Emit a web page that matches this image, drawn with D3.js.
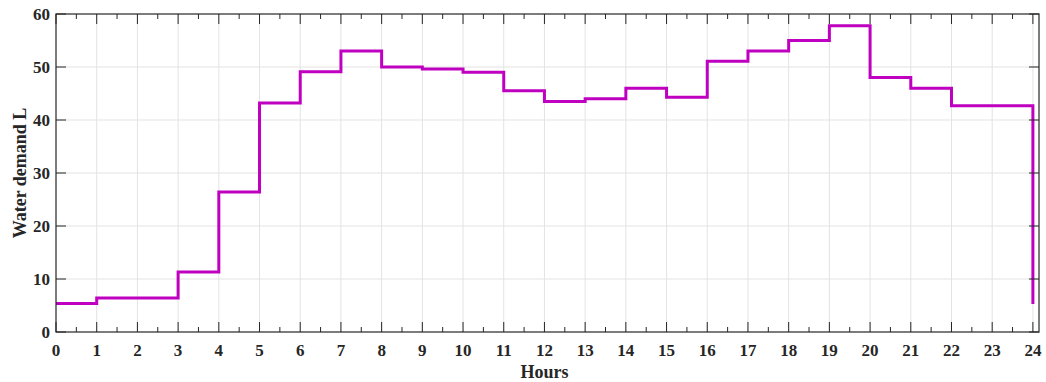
<!DOCTYPE html>
<html>
<head>
<meta charset="utf-8">
<script src="https://cdn.jsdelivr.net/npm/d3@7"></script>
<style>
  body { margin: 0; background: #fff; }
  svg text { font-family: "Liberation Serif", "DejaVu Serif", serif; fill: #262626; }
</style>
</head>
<body>
<svg id="chart" width="1046" height="382"></svg>
<script>
// hourly water demand (L), one value per hour 0..23, last value repeats hour 0
const hours = d3.range(0, 25);
const demand = [5.4, 6.4, 6.4, 11.3, 26.4, 43.2, 49.1, 53.0, 50.0, 49.6, 49.0, 45.5,
                43.5, 44.0, 46.0, 44.3, 51.1, 53.0, 55.0, 57.8, 48.0, 46.0, 42.7, 42.7, 5.3];
const yTicks = [0, 10, 20, 30, 40, 50, 60];
const xTicks = d3.range(0, 25);

const margin = { top: 14, left: 56, right: 7, bottom: 50 };
const W = 1046, H = 382;
const innerW = W - margin.left - margin.right;
const innerH = H - margin.top - margin.bottom;

const svg = d3.select('#chart');
const g = svg.append('g').attr('transform', 'translate(' + margin.left + ',' + margin.top + ')');

const x = d3.scaleLinear().domain([0, 24.15]).range([0, innerW]);
const y = d3.scaleLinear().domain([0, 60]).range([innerH, 0]);

// GRID
g.append('g').selectAll('line').data(xTicks.slice(1)).join('line')
    .attr('x1', d => x(d)).attr('x2', d => x(d))
    .attr('y1', 0).attr('y2', innerH)
    .attr('stroke', '#e3e3e3').attr('stroke-width', 1);
g.append('g').selectAll('line').data(yTicks.slice(1, -1)).join('line')
    .attr('x1', 0).attr('x2', innerW)
    .attr('y1', d => y(d)).attr('y2', d => y(d))
    .attr('stroke', '#e3e3e3').attr('stroke-width', 1);

// LINE
const pts = hours.map((h, i) => ({ h: h, v: demand[i] }));
const line = d3.line().x(d => x(d.h)).y(d => y(d.v)).curve(d3.curveStepAfter);
g.append('path').datum(pts)
    .attr('d', line)
    .attr('fill', 'none')
    .attr('stroke', '#c000c0')
    .attr('stroke-width', 3);

// AXES
const minor = d3.range(0.5, 24, 1);
function tickMarks(data, len, atTop) {
    g.append('g').selectAll('line').data(data).join('line')
        .attr('x1', d => x(d)).attr('x2', d => x(d))
        .attr('y1', atTop ? 0 : innerH).attr('y2', atTop ? len : innerH - len)
        .attr('stroke', '#262626').attr('stroke-width', 1);
}
tickMarks(xTicks, 10, false);
tickMarks(minor, 5, false);
tickMarks(xTicks, 10, true);
tickMarks(minor, 5, true);

g.append('g').selectAll('line').data(yTicks).join('line')
    .attr('x1', 0).attr('x2', 10)
    .attr('y1', d => y(d)).attr('y2', d => y(d))
    .attr('stroke', '#262626');
g.append('g').selectAll('line').data(yTicks).join('line')
    .attr('x1', innerW).attr('x2', innerW - 10)
    .attr('y1', d => y(d)).attr('y2', d => y(d))
    .attr('stroke', '#262626');

g.append('rect')
    .attr('x', 0).attr('y', 0).attr('width', innerW).attr('height', innerH)
    .attr('fill', 'none').attr('stroke', '#262626').attr('stroke-width', 1.2);

// LABELS
g.append('g').selectAll('text').data(xTicks).join('text')
    .attr('x', d => x(d)).attr('y', innerH + 24)
    .attr('text-anchor', 'middle')
    .style('font-size', '17px').style('font-weight', 'bold')
    .text(d => d);
g.append('g').selectAll('text').data(yTicks).join('text')
    .attr('x', -6).attr('y', d => y(d) + 6)
    .attr('text-anchor', 'end')
    .style('font-size', '17px').style('font-weight', 'bold')
    .text(d => d);

svg.append('text')
    .attr('x', margin.left + x(12)).attr('y', 378)
    .attr('text-anchor', 'middle')
    .style('font-size', '18px').style('font-weight', 'bold')
    .text('Hours');
svg.append('text')
    .attr('transform', 'translate(26,' + (margin.top + y(30)) + ') rotate(-90)')
    .attr('text-anchor', 'middle')
    .style('font-size', '18px').style('font-weight', 'bold')
    .text('Water demand L');
</script>
</body>
</html>
